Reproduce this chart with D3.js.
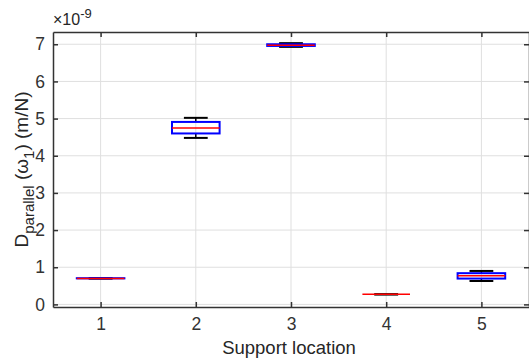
<!DOCTYPE html>
<html>
<head>
<meta charset="utf-8">
<script src="https://cdn.jsdelivr.net/npm/d3@7"></script>
<style>
  body { margin: 0; background: #fff; }
  text { font-family: "Liberation Sans", Arial, sans-serif; fill: #262626; }
</style>
</head>
<body>
<div id="visual"></div>
<script>
// data (units of 1e-9 m/N)
const groups = [1, 2, 3, 4, 5];
const lowWhisker = [0.695, 4.48, 6.93, 0.27, 0.63];
const q1 = [0.70, 4.60, 6.955, 0.27, 0.695];
const median = [0.70, 4.75, 6.975, 0.27, 0.77];
const q3 = [0.705, 4.91, 7.00, 0.27, 0.84];
const highWhisker = [0.705, 5.02, 7.03, 0.27, 0.90];
const yTicks = [0, 1, 2, 3, 4, 5, 6, 7];

const width = 529, height = 358;
const margin = {top: 32, right: 0, bottom: 51, left: 53};
const iw = width - margin.left - margin.right;
const ih = height - margin.top - margin.bottom;

const svg = d3.select("#visual").append("svg")
  .attr("width", width).attr("height", height);
const g = svg.append("g").attr("transform", "translate(" + margin.left + "," + margin.top + ")");

const x = d3.scaleLinear().domain([0.5, 5.5]).range([0, iw]);
const y = d3.scaleLinear().domain([-0.07, 7.33]).range([ih, 0]);

// grid
g.selectAll(".gx").data(groups).enter().append("line")
  .attr("x1", d => x(d)).attr("x2", d => x(d))
  .attr("y1", 0).attr("y2", ih)
  .attr("stroke", "#dfdfdf").attr("stroke-width", 1);
g.selectAll(".gy").data(yTicks).enter().append("line")
  .attr("x1", 0).attr("x2", iw)
  .attr("y1", d => y(d)).attr("y2", d => y(d))
  .attr("stroke", "#dfdfdf").attr("stroke-width", 1);

// axes
const axCol = "#333333";
const xAxis = g.append("g").attr("transform", "translate(0," + ih + ")")
  .call(d3.axisBottom(x).tickValues(groups).tickFormat(d3.format("d")).tickSizeInner(-5).tickSizeOuter(0).tickPadding(11));
const xTop = g.append("g")
  .call(d3.axisTop(x).tickValues(groups).tickSizeInner(-5).tickSizeOuter(0).tickFormat(""));
const yAxis = g.append("g")
  .call(d3.axisLeft(y).tickValues(yTicks).tickSizeInner(-5).tickSizeOuter(0).tickPadding(8));
const yRight = g.append("g").attr("transform", "translate(" + iw + ",0)")
  .call(d3.axisRight(y).tickValues(yTicks).tickSizeInner(-5).tickSizeOuter(0).tickFormat(""));
[xAxis, xTop, yAxis, yRight].forEach(a => {
  a.selectAll("path").attr("stroke", axCol).attr("stroke-width", 1.5);
  a.selectAll("line").attr("stroke", axCol).attr("stroke-width", 1.5);
  a.selectAll("text").attr("font-size", 17.5).style("fill", axCol)
    .attr("font-family", "Liberation Sans, Arial, sans-serif");
});

// boxes
const boxW = x(1.25) - x(1);
const capW = x(1.125) - x(1);
const boxes = g.selectAll(".box").data(groups).enter().append("g").attr("class", "box");
boxes.append("line")
  .attr("x1", d => x(d)).attr("x2", d => x(d))
  .attr("y1", (d, i) => y(highWhisker[i])).attr("y2", (d, i) => y(q3[i]))
  .attr("stroke", "#000").attr("stroke-width", 1.5);
boxes.append("line")
  .attr("x1", d => x(d)).attr("x2", d => x(d))
  .attr("y1", (d, i) => y(q1[i])).attr("y2", (d, i) => y(lowWhisker[i]))
  .attr("stroke", "#000").attr("stroke-width", 1.5);
boxes.append("line")
  .attr("x1", d => x(d) - capW).attr("x2", d => x(d) + capW)
  .attr("y1", (d, i) => y(highWhisker[i])).attr("y2", (d, i) => y(highWhisker[i]))
  .attr("stroke", "#000").attr("stroke-width", 2);
boxes.append("line")
  .attr("x1", d => x(d) - capW).attr("x2", d => x(d) + capW)
  .attr("y1", (d, i) => y(lowWhisker[i])).attr("y2", (d, i) => y(lowWhisker[i]))
  .attr("stroke", "#000").attr("stroke-width", 2);
boxes.append("rect")
  .attr("x", d => x(d) - boxW).attr("width", 2 * boxW)
  .attr("y", (d, i) => y(q3[i])).attr("height", (d, i) => y(q1[i]) - y(q3[i]))
  .attr("fill", "none").attr("stroke", "#0000ff").attr("stroke-width", 2);
boxes.append("line")
  .attr("x1", d => x(d) - boxW).attr("x2", d => x(d) + boxW)
  .attr("y1", (d, i) => y(median[i])).attr("y2", (d, i) => y(median[i]))
  .attr("stroke", "#ff0000").attr("stroke-width", 1.5);

// exponent label
const expo = svg.append("text").attr("x", margin.left).attr("y", 25).attr("font-size", 16);
expo.append("tspan").text("\u00d710");
expo.append("tspan").attr("dy", -7).attr("font-size", 13).text("-9");

// axis labels
svg.append("text")
  .attr("x", margin.left + iw / 2 - 2).attr("y", 354)
  .attr("text-anchor", "middle").attr("font-size", 18.5)
  .text("Support location");

const yl = svg.append("text")
  .attr("transform", "translate(28," + (margin.top + ih / 2) + ") rotate(-90)")
  .attr("text-anchor", "middle").attr("font-size", 19);
yl.append("tspan").text("D");
yl.append("tspan").attr("dy", 6).attr("font-size", 15).text("parallel");
yl.append("tspan").attr("dy", -6).text(" (\u03c9");
yl.append("tspan").attr("dy", 6).attr("font-size", 15).text("1");
yl.append("tspan").attr("dy", -6).text(") (m/N)");
</script>
</body>
</html>
